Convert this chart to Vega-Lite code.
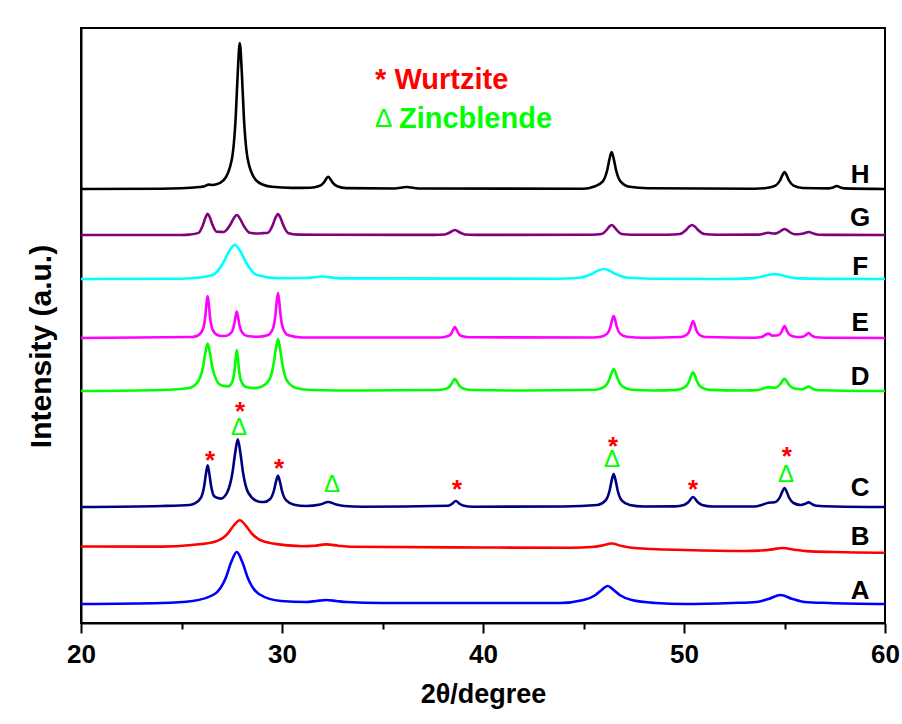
{
"$schema": "https://vega.github.io/schema/vega-lite/v6.json",
"width": 804, "height": 595,
"autosize": {"type": "none"},
"padding": {"left": 81, "top": 28, "right": 17, "bottom": 101},
"background": "white",
"config": {"view": {"stroke": "black", "strokeWidth": 2}, "font": "Liberation Sans"},
"datasets": {
"xrd": [
{"s":"A","x":20,"y":19},{"s":"A","x":24,"y":20},{"s":"A","x":25.55,"y":22},{"s":"A","x":26.65,"y":29},{"s":"A","x":27.2,"y":45},{"s":"A","x":27.475,"y":61},{"s":"A","x":27.75,"y":71},{"s":"A","x":28.025,"y":61},{"s":"A","x":28.3,"y":45},{"s":"A","x":28.85,"y":29},{"s":"A","x":29.95,"y":22},{"s":"A","x":31.2,"y":21},{"s":"A","x":31.7,"y":22},{"s":"A","x":32.2,"y":23},{"s":"A","x":32.7,"y":22},{"s":"A","x":33.2,"y":21},{"s":"A","x":35,"y":20},{"s":"A","x":43.8,"y":20},{"s":"A","x":45,"y":23},{"s":"A","x":45.6,"y":28},{"s":"A","x":45.9,"y":33},{"s":"A","x":46.2,"y":37},{"s":"A","x":46.5,"y":33},{"s":"A","x":46.8,"y":28},{"s":"A","x":47.4,"y":23},{"s":"A","x":48.6,"y":20},{"s":"A","x":50,"y":19},{"s":"A","x":52.4,"y":20},{"s":"A","x":53.6,"y":21},{"s":"A","x":54.2,"y":24},{"s":"A","x":54.8,"y":28},{"s":"A","x":55.4,"y":24},{"s":"A","x":56,"y":21},{"s":"A","x":57.2,"y":20},{"s":"A","x":60,"y":19},
{"s":"B","x":20,"y":76.5},{"s":"B","x":24,"y":76.4},{"s":"B","x":25.5,"y":78},{"s":"B","x":26.7,"y":81.6},{"s":"B","x":27.3,"y":89.4},{"s":"B","x":27.6,"y":97.5},{"s":"B","x":27.9,"y":102.8},{"s":"B","x":28.2,"y":97.4},{"s":"B","x":28.5,"y":89.3},{"s":"B","x":29.1,"y":81.4},{"s":"B","x":30.3,"y":77.6},{"s":"B","x":31,"y":76.8},{"s":"B","x":31.6,"y":77.3},{"s":"B","x":32.2,"y":78.6},{"s":"B","x":32.8,"y":77.3},{"s":"B","x":33.4,"y":76.3},{"s":"B","x":40,"y":75.5},{"s":"B","x":44.4,"y":75.2},{"s":"B","x":45.4,"y":76},{"s":"B","x":45.9,"y":77.4},{"s":"B","x":46.4,"y":79.5},{"s":"B","x":46.9,"y":77},{"s":"B","x":47.4,"y":75.3},{"s":"B","x":48.4,"y":74},{"s":"B","x":50,"y":73},{"s":"B","x":53,"y":72},{"s":"B","x":53.7,"y":72.4},{"s":"B","x":54.3,"y":73.4},{"s":"B","x":54.9,"y":75},{"s":"B","x":55.5,"y":73.3},{"s":"B","x":56.1,"y":71.9},{"s":"B","x":57.5,"y":71},{"s":"B","x":60,"y":70.3},
{"s":"C","x":20,"y":116},{"s":"C","x":24,"y":117},{"s":"C","x":25.4,"y":118},{"s":"C","x":25.64,"y":119.4},{"s":"C","x":25.97,"y":125.4},{"s":"C","x":26.135,"y":137.6},{"s":"C","x":26.22,"y":149.7},{"s":"C","x":26.3,"y":157.8},{"s":"C","x":26.38,"y":149.9},{"s":"C","x":26.465,"y":138},{"s":"C","x":26.63,"y":126.6},{"s":"C","x":26.96,"y":124.4},{"s":"C","x":27.27,"y":130.5},{"s":"C","x":27.535,"y":150.2},{"s":"C","x":27.67,"y":170},{"s":"C","x":27.8,"y":183.7},{"s":"C","x":27.93,"y":170},{"s":"C","x":28.065,"y":150},{"s":"C","x":28.33,"y":130},{"s":"C","x":28.86,"y":121.3},{"s":"C","x":29.1,"y":121},{"s":"C","x":29.4,"y":123.8},{"s":"C","x":29.6,"y":132.5},{"s":"C","x":29.7,"y":141.3},{"s":"C","x":29.8,"y":147.2},{"s":"C","x":29.9,"y":141},{"s":"C","x":30,"y":132},{"s":"C","x":30.2,"y":122.8},{"s":"C","x":30.6,"y":118.3},{"s":"C","x":31.2,"y":117},{"s":"C","x":31.9,"y":118.5},{"s":"C","x":32.3,"y":121},{"s":"C","x":32.7,"y":118.5},{"s":"C","x":33.1,"y":117},{"s":"C","x":34,"y":116.3},{"s":"C","x":38.25,"y":117.2},{"s":"C","x":38.45,"y":119},{"s":"C","x":38.65,"y":122},{"s":"C","x":38.85,"y":119},{"s":"C","x":39.05,"y":117.2},{"s":"C","x":39.5,"y":116.3},{"s":"C","x":44,"y":116.5},{"s":"C","x":45.7,"y":118},{"s":"C","x":46.1,"y":122.6},{"s":"C","x":46.3,"y":132.5},{"s":"C","x":46.4,"y":142.4},{"s":"C","x":46.5,"y":149},{"s":"C","x":46.6,"y":142.4},{"s":"C","x":46.7,"y":132.5},{"s":"C","x":46.9,"y":122.6},{"s":"C","x":47.3,"y":118},{"s":"C","x":48,"y":116.5},{"s":"C","x":49.55,"y":116.6},{"s":"C","x":50,"y":118},{"s":"C","x":50.225,"y":121},{"s":"C","x":50.45,"y":126},{"s":"C","x":50.675,"y":121},{"s":"C","x":50.9,"y":118},{"s":"C","x":51.4,"y":116.5},{"s":"C","x":53.5,"y":116.5},{"s":"C","x":53.9,"y":118.3},{"s":"C","x":54.2,"y":120.3},{"s":"C","x":54.5,"y":120.7},{"s":"C","x":54.775,"y":126},{"s":"C","x":54.89,"y":131.4},{"s":"C","x":55,"y":135},{"s":"C","x":55.11,"y":131.2},{"s":"C","x":55.225,"y":125.5},{"s":"C","x":55.45,"y":120},{"s":"C","x":55.8,"y":118},{"s":"C","x":56,"y":119},{"s":"C","x":56.2,"y":120.6},{"s":"C","x":56.4,"y":118.5},{"s":"C","x":56.6,"y":117.2},{"s":"C","x":57.5,"y":116.5},{"s":"C","x":60,"y":116},
{"s":"D","x":20,"y":232},{"s":"D","x":24,"y":233},{"s":"D","x":25.38,"y":235},{"s":"D","x":25.84,"y":242},{"s":"D","x":26.07,"y":256},{"s":"D","x":26.185,"y":270},{"s":"D","x":26.3,"y":279.4},{"s":"D","x":26.415,"y":270},{"s":"D","x":26.53,"y":256},{"s":"D","x":26.76,"y":242},{"s":"D","x":27,"y":237.4},{"s":"D","x":27.31,"y":236.6},{"s":"D","x":27.53,"y":241.4},{"s":"D","x":27.64,"y":253},{"s":"D","x":27.695,"y":264.5},{"s":"D","x":27.75,"y":272.9},{"s":"D","x":27.805,"y":265},{"s":"D","x":27.86,"y":253.4},{"s":"D","x":27.97,"y":241.7},{"s":"D","x":28.19,"y":236.2},{"s":"D","x":28.6,"y":234.9},{"s":"D","x":28.9,"y":235.8},{"s":"D","x":29.35,"y":242.7},{"s":"D","x":29.575,"y":258},{"s":"D","x":29.69,"y":273.6},{"s":"D","x":29.8,"y":284},{"s":"D","x":29.91,"y":273.5},{"s":"D","x":30.025,"y":258},{"s":"D","x":30.25,"y":242.4},{"s":"D","x":30.7,"y":235.1},{"s":"D","x":31.5,"y":233},{"s":"D","x":34,"y":232.5},{"s":"D","x":37.8,"y":233},{"s":"D","x":38.2,"y":234.4},{"s":"D","x":38.4,"y":238},{"s":"D","x":38.5,"y":241.6},{"s":"D","x":38.6,"y":244},{"s":"D","x":38.7,"y":241.6},{"s":"D","x":38.8,"y":238},{"s":"D","x":39,"y":234.4},{"s":"D","x":39.4,"y":233},{"s":"D","x":42,"y":232.5},{"s":"D","x":45.6,"y":233.3},{"s":"D","x":46.05,"y":236.4},{"s":"D","x":46.275,"y":243},{"s":"D","x":46.39,"y":249.6},{"s":"D","x":46.5,"y":254},{"s":"D","x":46.61,"y":249.6},{"s":"D","x":46.725,"y":243},{"s":"D","x":46.95,"y":236.4},{"s":"D","x":47.4,"y":233.3},{"s":"D","x":48.5,"y":232.5},{"s":"D","x":49.65,"y":233.1},{"s":"D","x":50.05,"y":235.8},{"s":"D","x":50.25,"y":241.5},{"s":"D","x":50.35,"y":247.2},{"s":"D","x":50.45,"y":251},{"s":"D","x":50.55,"y":247.2},{"s":"D","x":50.65,"y":241.5},{"s":"D","x":50.85,"y":235.8},{"s":"D","x":51.25,"y":233.1},{"s":"D","x":53,"y":232.5},{"s":"D","x":53.7,"y":233},{"s":"D","x":54.2,"y":235.9},{"s":"D","x":54.45,"y":235.3},{"s":"D","x":54.55,"y":235.4},{"s":"D","x":54.775,"y":238.5},{"s":"D","x":54.89,"y":241.9},{"s":"D","x":55,"y":244.2},{"s":"D","x":55.11,"y":241.7},{"s":"D","x":55.225,"y":238.2},{"s":"D","x":55.45,"y":234.7},{"s":"D","x":55.8,"y":233.7},{"s":"D","x":56,"y":234.6},{"s":"D","x":56.2,"y":236.4},{"s":"D","x":56.4,"y":234.3},{"s":"D","x":56.6,"y":233},{"s":"D","x":57.5,"y":232.5},{"s":"D","x":60,"y":232},
{"s":"E","x":20,"y":285},{"s":"E","x":25.5,"y":286},{"s":"E","x":25.82,"y":287.5},{"s":"E","x":26.06,"y":293.4},{"s":"E","x":26.18,"y":306},{"s":"E","x":26.24,"y":318.6},{"s":"E","x":26.3,"y":327},{"s":"E","x":26.36,"y":318.6},{"s":"E","x":26.42,"y":306},{"s":"E","x":26.54,"y":293.7},{"s":"E","x":26.78,"y":288},{"s":"E","x":27,"y":287},{"s":"E","x":27.23,"y":287.3},{"s":"E","x":27.49,"y":290.7},{"s":"E","x":27.62,"y":298.4},{"s":"E","x":27.685,"y":306},{"s":"E","x":27.75,"y":311.5},{"s":"E","x":27.815,"y":306},{"s":"E","x":27.88,"y":298.3},{"s":"E","x":28.01,"y":290.8},{"s":"E","x":28.27,"y":287},{"s":"E","x":28.8,"y":286.2},{"s":"E","x":29.28,"y":287.7},{"s":"E","x":29.54,"y":294},{"s":"E","x":29.67,"y":307.5},{"s":"E","x":29.735,"y":321},{"s":"E","x":29.8,"y":330},{"s":"E","x":29.865,"y":321},{"s":"E","x":29.93,"y":307.5},{"s":"E","x":30.06,"y":294},{"s":"E","x":30.32,"y":287.7},{"s":"E","x":31,"y":285.5},{"s":"E","x":37.9,"y":285.5},{"s":"E","x":38.3,"y":287.2},{"s":"E","x":38.45,"y":290.5},{"s":"E","x":38.525,"y":293.8},{"s":"E","x":38.6,"y":296},{"s":"E","x":38.675,"y":293.8},{"s":"E","x":38.75,"y":290.5},{"s":"E","x":38.9,"y":287.2},{"s":"E","x":39.3,"y":285.7},{"s":"E","x":45.5,"y":285.5},{"s":"E","x":45.86,"y":286.3},{"s":"E","x":46.18,"y":289.4},{"s":"E","x":46.34,"y":296},{"s":"E","x":46.42,"y":302.6},{"s":"E","x":46.5,"y":307},{"s":"E","x":46.58,"y":302.6},{"s":"E","x":46.66,"y":296},{"s":"E","x":46.82,"y":289.4},{"s":"E","x":47.14,"y":286.3},{"s":"E","x":48,"y":285.3},{"s":"E","x":49.85,"y":286},{"s":"E","x":50.15,"y":288.4},{"s":"E","x":50.3,"y":293.5},{"s":"E","x":50.375,"y":298.6},{"s":"E","x":50.45,"y":302},{"s":"E","x":50.525,"y":298.6},{"s":"E","x":50.6,"y":293.5},{"s":"E","x":50.75,"y":288.4},{"s":"E","x":51.05,"y":286},{"s":"E","x":53.5,"y":285.3},{"s":"E","x":53.85,"y":286},{"s":"E","x":54.2,"y":289.4},{"s":"E","x":54.4,"y":287.4},{"s":"E","x":54.7,"y":287.8},{"s":"E","x":54.85,"y":291},{"s":"E","x":54.925,"y":294.6},{"s":"E","x":55,"y":297},{"s":"E","x":55.075,"y":294.6},{"s":"E","x":55.15,"y":291},{"s":"E","x":55.3,"y":287.6},{"s":"E","x":55.6,"y":286},{"s":"E","x":55.9,"y":286.3},{"s":"E","x":56.05,"y":287.7},{"s":"E","x":56.2,"y":290},{"s":"E","x":56.35,"y":287.5},{"s":"E","x":56.5,"y":286},{"s":"E","x":57,"y":285.3},{"s":"E","x":60,"y":285},
{"s":"F","x":20,"y":344},{"s":"F","x":25,"y":344.3},{"s":"F","x":25.45,"y":344.7},{"s":"F","x":26.55,"y":348},{"s":"F","x":27.1,"y":361},{"s":"F","x":27.375,"y":372},{"s":"F","x":27.65,"y":378},{"s":"F","x":27.925,"y":372},{"s":"F","x":28.2,"y":361},{"s":"F","x":28.75,"y":348},{"s":"F","x":29.85,"y":344.7},{"s":"F","x":31,"y":345},{"s":"F","x":31.5,"y":345.4},{"s":"F","x":32,"y":346.5},{"s":"F","x":32.5,"y":345.4},{"s":"F","x":33,"y":344.6},{"s":"F","x":43.6,"y":344.3},{"s":"F","x":44.8,"y":345.2},{"s":"F","x":45.4,"y":349},{"s":"F","x":45.7,"y":352.2},{"s":"F","x":46,"y":354},{"s":"F","x":46.3,"y":352.2},{"s":"F","x":46.6,"y":349},{"s":"F","x":47.2,"y":345.2},{"s":"F","x":48.4,"y":344.3},{"s":"F","x":52,"y":344},{"s":"F","x":53.3,"y":344.6},{"s":"F","x":53.9,"y":346.5},{"s":"F","x":54.2,"y":348.1},{"s":"F","x":54.5,"y":349},{"s":"F","x":54.8,"y":348.1},{"s":"F","x":55.1,"y":346.5},{"s":"F","x":55.7,"y":344.6},{"s":"F","x":57,"y":344.1},{"s":"F","x":60,"y":344},
{"s":"G","x":20,"y":388},{"s":"G","x":25,"y":388},{"s":"G","x":25.4,"y":388.4},{"s":"G","x":25.85,"y":390.1},{"s":"G","x":26.075,"y":398.5},{"s":"G","x":26.19,"y":405.2},{"s":"G","x":26.3,"y":409.3},{"s":"G","x":26.41,"y":405.6},{"s":"G","x":26.525,"y":399.1},{"s":"G","x":26.75,"y":391.3},{"s":"G","x":27,"y":391.1},{"s":"G","x":27.1,"y":391},{"s":"G","x":27.425,"y":398.2},{"s":"G","x":27.59,"y":404.4},{"s":"G","x":27.75,"y":408},{"s":"G","x":27.91,"y":404.4},{"s":"G","x":28.075,"y":398},{"s":"G","x":28.4,"y":390.2},{"s":"G","x":28.8,"y":389.5},{"s":"G","x":29.05,"y":389.9},{"s":"G","x":29.3,"y":390.3},{"s":"G","x":29.55,"y":398.5},{"s":"G","x":29.675,"y":405.2},{"s":"G","x":29.8,"y":409},{"s":"G","x":29.925,"y":405.2},{"s":"G","x":30.05,"y":398.5},{"s":"G","x":30.3,"y":390.1},{"s":"G","x":30.8,"y":388.4},{"s":"G","x":32,"y":388.2},{"s":"G","x":37.6,"y":388.1},{"s":"G","x":38.1,"y":388.5},{"s":"G","x":38.35,"y":390.5},{"s":"G","x":38.6,"y":393},{"s":"G","x":38.85,"y":390.5},{"s":"G","x":39.1,"y":388.5},{"s":"G","x":39.6,"y":388.1},{"s":"G","x":45.4,"y":388.2},{"s":"G","x":45.9,"y":389},{"s":"G","x":46.15,"y":393},{"s":"G","x":46.275,"y":396.2},{"s":"G","x":46.4,"y":398},{"s":"G","x":46.525,"y":396.2},{"s":"G","x":46.65,"y":393},{"s":"G","x":46.9,"y":389},{"s":"G","x":47.4,"y":388.2},{"s":"G","x":49.2,"y":388.2},{"s":"G","x":49.8,"y":389},{"s":"G","x":50.1,"y":393},{"s":"G","x":50.25,"y":396.2},{"s":"G","x":50.4,"y":398},{"s":"G","x":50.55,"y":396.2},{"s":"G","x":50.7,"y":393},{"s":"G","x":51,"y":389},{"s":"G","x":51.6,"y":388.2},{"s":"G","x":53.7,"y":388.4},{"s":"G","x":54.2,"y":390.3},{"s":"G","x":54.5,"y":389.4},{"s":"G","x":54.75,"y":391.2},{"s":"G","x":54.875,"y":392.9},{"s":"G","x":55,"y":394},{"s":"G","x":55.125,"y":392.9},{"s":"G","x":55.25,"y":391},{"s":"G","x":55.5,"y":388.8},{"s":"G","x":55.7,"y":388.7},{"s":"G","x":55.95,"y":389.5},{"s":"G","x":56.2,"y":391},{"s":"G","x":56.45,"y":389.5},{"s":"G","x":56.7,"y":388.3},{"s":"G","x":57.5,"y":388.1},{"s":"G","x":60,"y":388},
{"s":"H","x":20,"y":434},{"s":"H","x":24,"y":434.3},{"s":"H","x":25.9,"y":436},{"s":"H","x":26.15,"y":436.7},{"s":"H","x":26.35,"y":438.4},{"s":"H","x":26.55,"y":438},{"s":"H","x":26.7,"y":438.4},{"s":"H","x":27.1,"y":442.8},{"s":"H","x":27.5,"y":463.2},{"s":"H","x":27.7,"y":507},{"s":"H","x":27.8,"y":550.8},{"s":"H","x":27.9,"y":580},{"s":"H","x":28,"y":550.8},{"s":"H","x":28.1,"y":507},{"s":"H","x":28.3,"y":463.2},{"s":"H","x":28.7,"y":442.8},{"s":"H","x":29.1,"y":438},{"s":"H","x":29.5,"y":436.2},{"s":"H","x":30.5,"y":435.1},{"s":"H","x":31.4,"y":435.3},{"s":"H","x":31.85,"y":437},{"s":"H","x":32.075,"y":440.3},{"s":"H","x":32.19,"y":443.9},{"s":"H","x":32.3,"y":446.3},{"s":"H","x":32.41,"y":443.8},{"s":"H","x":32.525,"y":440.2},{"s":"H","x":32.75,"y":436.7},{"s":"H","x":33.2,"y":434.9},{"s":"H","x":35.6,"y":434.5},{"s":"H","x":36.2,"y":436},{"s":"H","x":36.8,"y":434.5},{"s":"H","x":45,"y":434.2},{"s":"H","x":45.5,"y":436.2},{"s":"H","x":45.95,"y":441.4},{"s":"H","x":46.175,"y":452.5},{"s":"H","x":46.29,"y":463.6},{"s":"H","x":46.4,"y":471},{"s":"H","x":46.51,"y":463.6},{"s":"H","x":46.625,"y":452.5},{"s":"H","x":46.85,"y":441.4},{"s":"H","x":47.3,"y":436.2},{"s":"H","x":48.2,"y":434.7},{"s":"H","x":53.5,"y":434.3},{"s":"H","x":54.1,"y":435},{"s":"H","x":54.55,"y":437.4},{"s":"H","x":54.775,"y":442.5},{"s":"H","x":54.89,"y":447.6},{"s":"H","x":55,"y":451},{"s":"H","x":55.11,"y":447.6},{"s":"H","x":55.225,"y":442.5},{"s":"H","x":55.45,"y":437.4},{"s":"H","x":55.9,"y":435},{"s":"H","x":57.2,"y":434.6},{"s":"H","x":57.4,"y":435.5},{"s":"H","x":57.6,"y":437},{"s":"H","x":57.8,"y":435.5},{"s":"H","x":58,"y":434.6},{"s":"H","x":60,"y":434}
],
"labels": [
{"s":"A","x":58.76,"y":32},{"s":"B","x":58.76,"y":86},{"s":"C","x":58.76,"y":135},{"s":"D","x":58.76,"y":246},{"s":"E","x":58.76,"y":300},{"s":"F","x":58.76,"y":356},{"s":"G","x":58.76,"y":405},{"s":"H","x":58.76,"y":448}
],
"phases": [
{"k":"w","t":"*","x":26.42,"y":169},{"k":"w","t":"*","x":27.91,"y":218},{"k":"w","t":"*","x":29.85,"y":161},{"k":"w","t":"*","x":38.71,"y":140},{"k":"w","t":"*","x":46.47,"y":183},{"k":"w","t":"*","x":50.45,"y":140},{"k":"w","t":"*","x":55.12,"y":173},
{"k":"z","t":"Δ","x":27.86,"y":195},{"k":"z","t":"Δ","x":32.49,"y":138},{"k":"z","t":"Δ","x":46.42,"y":163},{"k":"z","t":"Δ","x":55.07,"y":148}
]
},
"encoding": {
"x": {"field": "x", "type": "quantitative", "scale": {"domain": [20, 60], "nice": false, "zero": false},
 "axis": {"title": "2θ/degree", "values": [20,25,30,35,40,45,50,55,60], "labelExpr": "datum.value % 10 === 0 ? datum.label : ''",
  "tickSize": {"condition": {"test": "datum.value % 10 === 0", "value": 10}, "value": 6},
  "tickWidth": 2, "tickColor": "black", "domainColor": "black", "domainWidth": 2, "grid": false, "labelFlush": false, "labelOverlap": false,
  "labelFont": "Liberation Sans", "labelFontWeight": "bold", "labelFontSize": 26, "labelColor": "black", "labelPadding": 8,
  "titleFont": "Liberation Sans", "titleFontWeight": "bold", "titleFontSize": 27, "titleColor": "black", "titleBaseline": "alphabetic", "titleY": 79}},
"y": {"field": "y", "type": "quantitative", "scale": {"domain": [0, 595], "nice": false, "zero": false},
 "axis": {"title": "Intensity (a.u.)", "labels": false, "ticks": false, "grid": false, "domainColor": "black", "domainWidth": 2,
  "titleFont": "Liberation Sans", "titleFontWeight": "bold", "titleFontSize": 30, "titleColor": "black", "titleAngle": -90, "titleAlign": "center", "titleBaseline": "alphabetic", "titleX": -31, "titleY": 318}}
},
"layer": [
{"data": {"name": "xrd"}, "mark": {"type": "line", "interpolate": "monotone", "strokeWidth": 2.6},
 "encoding": {"color": {"field": "s", "type": "nominal", "legend": null,
  "scale": {"domain": ["A","B","C","D","E","F","G","H"], "range": ["#0000FF","#FF0000","#000080","#00FF00","#FF00FF","#00FFFF","#800080","#000000"]}}}},
{"data": {"name": "labels"}, "mark": {"type": "text", "font": "Liberation Sans", "fontWeight": "bold", "fontSize": 26, "align": "center", "baseline": "middle", "color": "black"},
 "encoding": {"text": {"field": "s"}}},
{"data": {"name": "phases"}, "transform": [{"filter": "datum.k === 'w'"}], "mark": {"type": "text", "font": "Liberation Sans", "fontWeight": "bold", "fontSize": 26, "align": "center", "baseline": "middle", "dy": 7, "color": "#FF0000"},
 "encoding": {"text": {"field": "t"}}},
{"data": {"name": "phases"}, "transform": [{"filter": "datum.k === 'z'"}], "mark": {"type": "text", "font": "Liberation Sans", "fontSize": 24, "align": "center", "baseline": "middle", "color": "#00FF00"},
 "encoding": {"text": {"field": "t"}}},
{"data": {"values": [{"x": 34.63, "y": 543, "t": "* Wurtzite"}]}, "mark": {"type": "text", "font": "Liberation Sans", "fontWeight": "bold", "fontSize": 29, "align": "left", "baseline": "middle", "color": "#FF0000"},
 "encoding": {"text": {"field": "t"}}},
{"data": {"values": [{"x": 34.63, "y": 504, "t": "Δ"}]}, "mark": {"type": "text", "font": "Liberation Sans", "fontSize": 26, "align": "left", "baseline": "middle", "color": "#00FF00"},
 "encoding": {"text": {"field": "t"}}},
{"data": {"values": [{"x": 35.82, "y": 504, "t": "Zincblende"}]}, "mark": {"type": "text", "font": "Liberation Sans", "fontWeight": "bold", "fontSize": 29, "align": "left", "baseline": "middle", "color": "#00FF00"},
 "encoding": {"text": {"field": "t"}}}
]
}
